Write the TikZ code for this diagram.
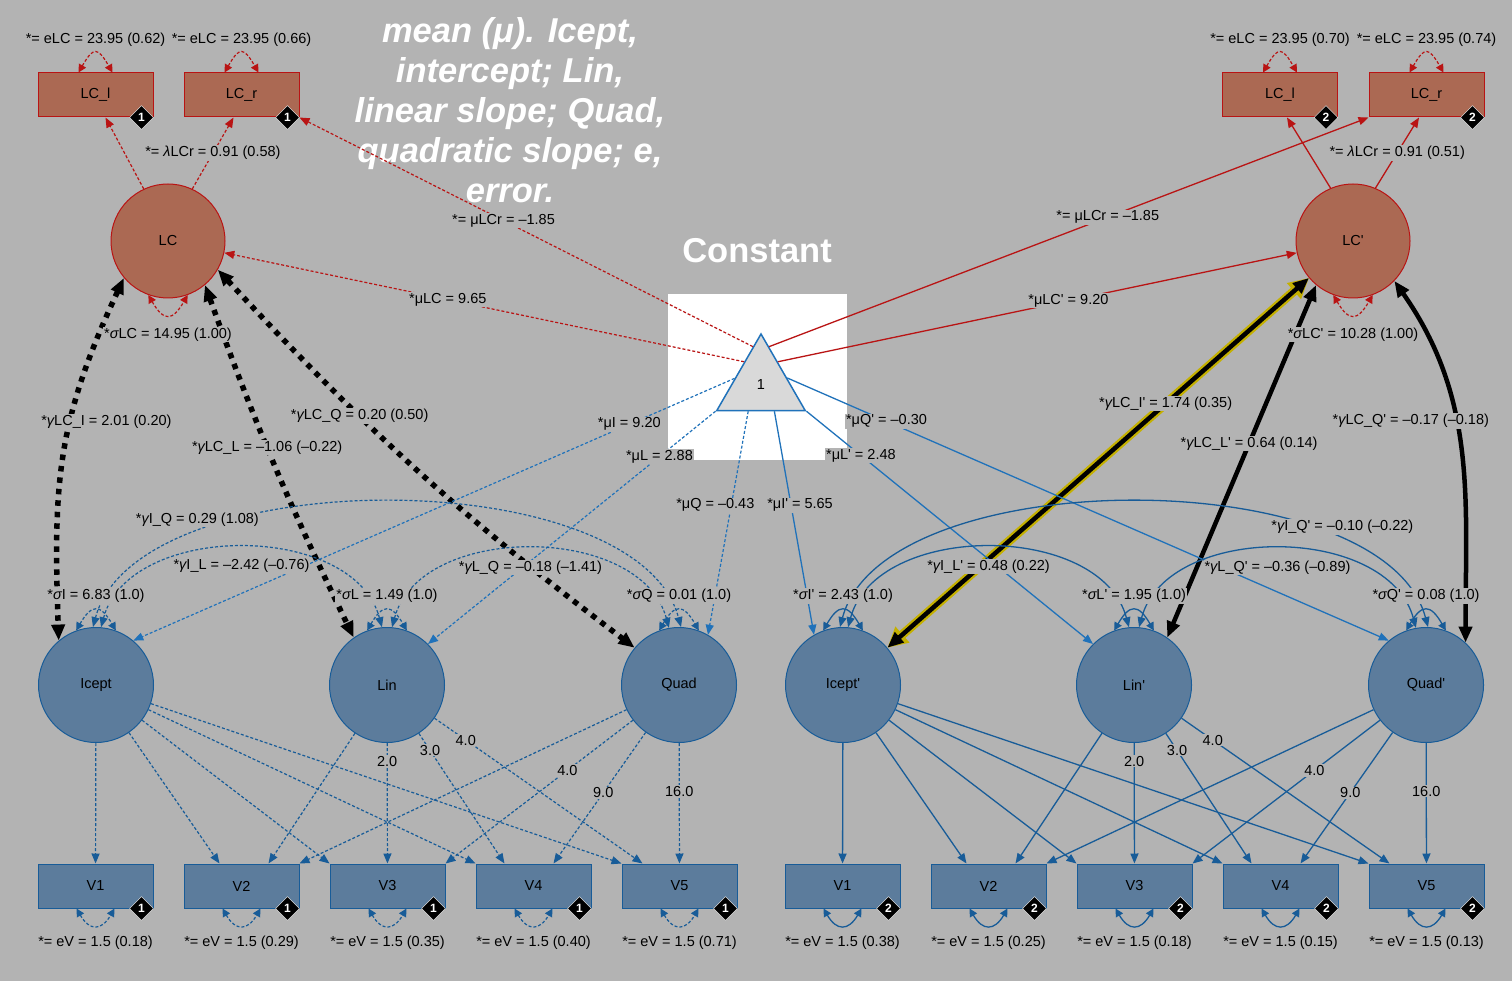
\documentclass[tikz,border=0pt]{standalone}
\usepackage{fontspec}
\newfontfamily\labfont{Liberation Sans}
\usetikzlibrary{arrows.meta,shapes.geometric}
\definecolor{bg}{RGB}{179,179,179}
\definecolor{lcfill}{RGB}{171,105,83}
\definecolor{lcred}{RGB}{185,20,20}
\definecolor{latfill}{RGB}{92,124,156}
\definecolor{latblue}{RGB}{24,92,152}
\definecolor{triblue}{RGB}{32,114,186}
\definecolor{halo}{RGB}{196,176,0}

\begin{document}
\begin{tikzpicture}[x=1pt,y=1pt,>={Triangle[length=10pt,width=8pt]},
  every node/.style={font=\labfont\fontsize{14.5}{17}\selectfont},
  lab/.style={fill=bg,text=black,inner sep=1pt},
  lcirc/.style={circle,draw=lcred,line width=1pt,fill=lcfill,minimum size=114pt,inner sep=0pt},
  lbox/.style={rectangle,draw=lcred,line width=1pt,fill=lcfill,minimum width=115pt,minimum height=44pt},
  lat/.style={circle,draw=latblue,line width=1pt,fill=latfill,minimum size=115pt,inner sep=0pt},
  obs/.style={rectangle,draw=latblue,line width=1pt,fill=latfill,minimum width=115pt,minimum height=44pt},
  badge/.style={diamond,fill=black,draw=white,text=white,inner sep=0pt,minimum size=24pt,font=\labfont\bfseries\fontsize{12}{12}\selectfont},
  rdash/.style={lcred,line width=1.2pt,dash pattern=on 3pt off 2pt},
  rsolid/.style={lcred,line width=1.3pt},
  bdash/.style={latblue,line width=1.2pt,dash pattern=on 3pt off 2pt},
  bsolid/.style={latblue,line width=1.3pt},
  tdash/.style={triblue,line width=1.2pt,dash pattern=on 3pt off 2pt},
  tsolid/.style={triblue,line width=1.3pt},
  sarr/.style={>={Triangle[length=8pt,width=8pt]},<->},
  thickdot/.style={line width=5.5pt,dash pattern=on 5.5pt off 6pt,{Triangle[length=16pt,width=13pt]}-{Triangle[length=16pt,width=13pt]}},
  thickline/.style={line width=4.5pt,{Triangle[length=16pt,width=13pt]}-{Triangle[length=16pt,width=13pt]}},
  haloline/.style={halo,line width=9pt,{Triangle[length=20pt,width=20pt]}-{Triangle[length=20pt,width=20pt]}}
]
\fill[bg] (0,0) rectangle (1512,-981);
\useasboundingbox (0,0) rectangle (1512,-981);
\fill[white] (668,-294) rectangle (847,-460);

% titles
\node[text=white,font=\labfont\bfseries\itshape\fontsize{34.5}{40}\selectfont,align=center] (title) at (510,-110)
  {mean (μ). Icept,\\intercept; Lin,\\linear slope; Quad,\\quadratic slope; e,\\error.};
\node[text=white,font=\labfont\bfseries\fontsize{34.5}{40}\selectfont] (const) at (757,-251) {Constant};

% constant
\node[regular polygon,regular polygon sides=3,draw=triblue,fill=black!15,line width=1.5pt,minimum size=102pt,inner sep=0pt] (K) at (761,-385) {1};

% LC and its indicators
\node[lbox] (LCl) at (95.5,-95) {LC\_l};
\node[lbox] (LCr) at (241.5,-95) {LC\_r};
\node[lbox] (LCl2) at (1280,-95) {LC\_l};
\node[lbox] (LCr2) at (1426.5,-95) {LC\_r};
\node[badge] at ([xshift=-12pt]LCl.south east) {1};
\node[badge] at ([xshift=-12pt]LCr.south east) {1};
\node[badge] at ([xshift=-12pt]LCl2.south east) {2};
\node[badge] at ([xshift=-12pt]LCr2.south east) {2};
\node[lcirc] (LC) at (168,-241) {LC};
\node[lcirc] (LC2) at (1353,-241) {LC'};

% growth factors
\node[lat] (I) at (96,-685) {Icept};
\node[lat] (L) at (387,-685) {Lin};
\node[lat] (Q) at (679,-685) {Quad};
\node[lat] (Ip) at (843,-685) {Icept'};
\node[lat] (Lp) at (1134,-685) {Lin'};
\node[lat] (Qp) at (1426,-685) {Quad'};

% observed
\foreach \i/\x/\ea/\eb in {1/95.5/0.18/0.38,2/241.5/0.29/0.25,3/387.5/0.35/0.18,4/533.5/0.40/0.15,5/679.5/0.71/0.13}{
  \node[obs] (V\i) at (\x,-886) {V\i};
  \node[obs] (Vp\i) at (\x+747,-886) {V\i};
  \node[badge] at ([xshift=-12pt]V\i.south east) {1};
  \node[badge] at ([xshift=-12pt]Vp\i.south east) {2};
  \draw[bdash,sarr] ([xshift=-19pt]V\i.south) to[out=-60,in=-120,looseness=1.76]
    node[lab,below=9pt]{*= eV = 1.5 (\ea)} ([xshift=19pt]V\i.south);
  \draw[bsolid,sarr] ([xshift=-19pt]Vp\i.south) to[out=-60,in=-120,looseness=1.76]
    node[lab,below=9pt]{*= eV = 1.5 (\eb)} ([xshift=19pt]Vp\i.south);
}

% LC with growth factors
\draw[thickdot] (LC.-140) to[out=-115,in=92,looseness=1.1] node[lab,pos=.4,xshift=36pt]{*{\itshape γ}LC\_I = 2.01 (0.20)} (I.130);
\draw[thickdot] (LC.-50) to[bend right=3] node[lab,pos=.45]{*{\itshape γ}LC\_L = –1.06 (–0.22)} (L.125);
\draw[thickdot] (LC.-30) to[bend right=5] node[lab,pos=.35]{*{\itshape γ}LC\_Q = 0.20 (0.50)} (Q.140);
\draw[haloline] (LC2.-140) -- (Ip.40);
\draw[thickline] (LC2.-140) -- node[lab,pos=.34]{*{\itshape γ}LC\_I' = 1.74 (0.35)} (Ip.40);
\draw[thickline] (LC2.-130) -- node[lab,pos=.45]{*{\itshape γ}LC\_L' = 0.64 (0.14)} (Lp.55);
\draw[thickline] (LC2.-44) to[out=-55,in=90] node[lab,pos=.41,xshift=-45pt]{*{\itshape γ}LC\_Q' = –0.17 (–0.18)} (Qp.47);

% means
\draw[rdash,->] (K.102) -- node[lab,pos=.55]{*= μLCr = –1.85} (LCr.south east);
\draw[rdash,->] (K.126) -- node[lab,pos=.57]{*μLC = 9.65} (LC);
\draw[rsolid,->] (K.78) -- node[lab,pos=.565]{*= μLCr = –1.85} (LCr2.south west);
\draw[rsolid,->] (K.54) -- node[lab,pos=.56]{*μLC' = 9.20} (LC2);
\draw[tdash,->] (K.166) -- node[lab,pos=.175]{*μI = 9.20} (I.50);
\draw[tdash,->] (K.210) -- node[lab,pos=.195]{*μL = 2.88} (L.45);
\draw[tdash,->] (K.244) -- node[lab,pos=.42,xshift=-16pt]{*μQ = –0.43} (Q.60);
\draw[tsolid,->] (K.297) -- node[lab,pos=.42,xshift=9pt]{*μI' = 5.65} (Ip.120);
\draw[tsolid,->] (K.330) -- node[lab,pos=.19]{*μL' = 2.48} (Lp.135);
\draw[tsolid,->] (K.15) -- node[lab,pos=.165]{*μQ' = –0.30} (Qp.130);

% LC loadings
\draw[rdash,->] (LC.115) -- ([xshift=10pt]LCl.south);
\draw[rdash,->] (LC.65) -- node[lab]{*= {\itshape λ}LCr = 0.91 (0.58)} ([xshift=-8pt]LCr.south);
\draw[rsolid,->] (LC2.113) -- ([xshift=7pt]LCl2.south);
\draw[rsolid,->] (LC2.67) -- node[lab]{*= {\itshape λ}LCr = 0.91 (0.51)} ([xshift=-7.5pt]LCr2.south);

% growth loadings
\foreach \s/\st in {/bdash,p/bsolid}{
  \draw[\st,->] (I\s) -- (V\s1);
  \draw[\st,->] (I\s) -- ([xshift=-22pt]V\s2.north);
  \draw[\st,->] (I\s) -- (V\s3.north west);
  \draw[\st,->] (I\s) -- (V\s4.north west);
  \draw[\st,->] (I\s) -- (V\s5.north west);
  \draw[\st,->] (L\s) -- ([xshift=27pt]V\s2.north);
  \draw[\st,->] (L\s) -- node[lab,pos=.15]{2.0} (V\s3);
  \draw[\st,->] (L\s) -- node[lab,pos=.13]{3.0} ([xshift=-29pt]V\s4.north);
  \draw[\st,->] (L\s) -- node[lab,pos=.15]{4.0} ([xshift=-37pt]V\s5.north);
  \draw[\st,->] (Q\s) -- (V\s2.north east);
  \draw[\st,->] (Q\s) -- node[lab,pos=.35]{4.0} (V\s3.north east);
  \draw[\st,->] (Q\s) -- node[lab,pos=.46]{9.0} ([xshift=20pt]V\s4.north);
  \draw[\st,->] (Q\s) -- node[lab,pos=.4]{16.0} (V\s5);
}

% factor covariances
\draw[bdash,<->] (I.85) to[out=75,in=105,looseness=1] node[lab,below=10pt]{*{\itshape γ}I\_L = –2.42 (–0.76)} (L.95);
\draw[bdash,<->] (I.93) to[out=75,in=105,looseness=.75] node[lab,pos=.25,above=6pt]{*{\itshape γ}I\_Q = 0.29 (1.08)} (Q.88);
\draw[bdash,<->] (L.85) to[out=75,in=105,looseness=1] node[lab,below=10pt]{*{\itshape γ}L\_Q = –0.18 (–1.41)} (Q.100);
\draw[bsolid,<->] (Ip.85) to[out=75,in=105,looseness=1] node[lab,below=10pt]{*{\itshape γ}I\_L' = 0.48 (0.22)} (Lp.95);
\draw[bsolid,<->] (Ip.93) to[out=75,in=105,looseness=.75] node[lab,pos=.78,above=6pt]{*{\itshape γ}I\_Q' = –0.10 (–0.22)} (Qp.88);
\draw[bsolid,<->] (Lp.85) to[out=75,in=105,looseness=1] node[lab,below=10pt]{*{\itshape γ}L\_Q' = –0.36 (–0.89)} (Qp.100);

% variances
\foreach \b/\v in {LCl/0.62,LCr/0.66,LCl2/0.70,LCr2/0.74}
  \draw[rdash,sarr] ([xshift=-17pt]\b.north) to[out=60,in=120,looseness=2.25]
    node[lab,above=5pt]{*= eLC = 23.95 (\v)} ([xshift=17pt]\b.north);
\draw[rdash,sarr] (LC.-110) to[out=-60,in=-120,looseness=2] node[lab,below=11pt]{*{\itshape σ}LC = 14.95 (1.00)} (LC.-70);
\draw[rdash,sarr] (LC2.-110) to[out=-60,in=-120,looseness=2] node[lab,below=11pt]{*{\itshape σ}LC' = 10.28 (1.00)} (LC2.-70);
\draw[bdash,sarr] (I.110) to[out=60,in=120,looseness=2] node[lab,above=6pt]{*{\itshape σ}I = 6.83 (1.0)} (I.70);
\draw[bdash,sarr] (L.110) to[out=60,in=120,looseness=2] node[lab,above=6pt]{*{\itshape σ}L = 1.49 (1.0)} (L.70);
\draw[bdash,sarr] (Q.110) to[out=60,in=120,looseness=2] node[lab,above=6pt]{*{\itshape σ}Q = 0.01 (1.0)} (Q.70);
\draw[bsolid,sarr] (Ip.110) to[out=60,in=120,looseness=2] node[lab,above=6pt]{*{\itshape σ}I' = 2.43 (1.0)} (Ip.70);
\draw[bsolid,sarr] (Lp.110) to[out=60,in=120,looseness=2] node[lab,above=6pt]{*{\itshape σ}L' = 1.95 (1.0)} (Lp.70);
\draw[bsolid,sarr] (Qp.110) to[out=60,in=120,looseness=2] node[lab,above=6pt]{*{\itshape σ}Q' = 0.08 (1.0)} (Qp.70);
\end{tikzpicture}
\end{document}
